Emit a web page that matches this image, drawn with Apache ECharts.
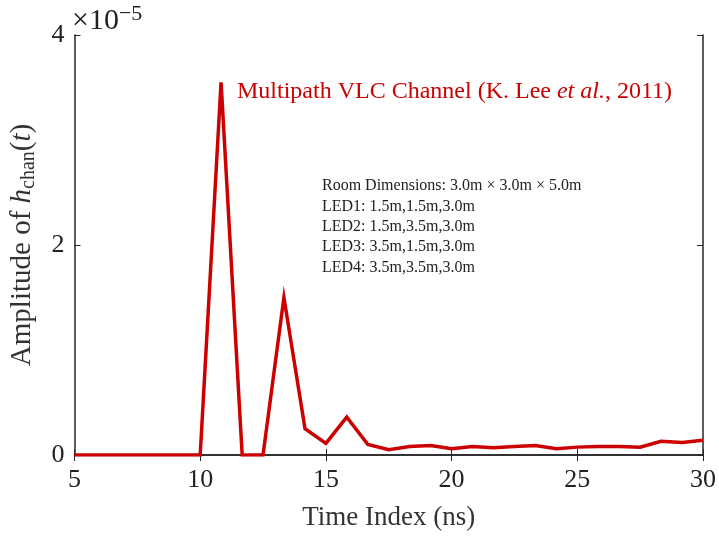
<!DOCTYPE html>
<html><head><meta charset="utf-8">
<script src="https://cdn.jsdelivr.net/npm/echarts@6/dist/echarts.min.js"></script>
<style>html,body{margin:0;padding:0;background:#fff}#c{width:719px;height:540px}</style>
</head><body><div id="c"></div>
<script>
// Time index (ns)
const timeNs = [5, 5.83, 6.67, 7.5, 8.33, 9.17, 10, 10.83, 11.67, 12.5, 13.33, 14.17, 15, 15.83, 16.67, 17.5, 18.33, 19.17, 20, 20.83, 21.67, 22.5, 23.33, 24.17, 25, 25.83, 26.67, 27.5, 28.33, 29.17, 30];
// Amplitude in units of 1e-5
const amplitude = [0, 0, 0, 0, 0, 0, 0, 3.55, 0, 0, 1.5, 0.25, 0.11, 0.36, 0.1, 0.05, 0.08, 0.09, 0.06, 0.08, 0.07, 0.08, 0.09, 0.06, 0.075, 0.08, 0.08, 0.075, 0.13, 0.12, 0.14];
const xTicks = [5, 10, 15, 20, 25, 30];
const yTicks = [0, 2, 4];
const infoLines = ['Room Dimensions: 3.0m \u00d7 3.0m \u00d7 5.0m', 'LED1: 1.5m,1.5m,3.0m', 'LED2: 1.5m,3.5m,3.0m', 'LED3: 3.5m,1.5m,3.0m', 'LED4: 3.5m,3.5m,3.0m'];

const FONT = '"Liberation Serif", "DejaVu Serif", serif';
const AX = '#262626';
const RED = '#cc0000';

const chart = echarts.init(document.getElementById('c'), null, {renderer: 'canvas'});
const axisCommon = {
  axisLine: {show: true, lineStyle: {color: AX, width: 1.5}},
  axisTick: {show: true, inside: true, length: 6, lineStyle: {color: AX, width: 1}},
  splitLine: {show: false}
};
chart.setOption({
  animation: false,
  grid: {left: 74, right: 15, top: 35, bottom: 85, containLabel: false},
  xAxis: [
    Object.assign({type: 'value', min: 5, max: 30, interval: 5, position: 'bottom',
      axisLabel: {color: '#222', fontFamily: FONT, fontSize: 26, margin: 12,
        formatter: v => xTicks.includes(v) ? String(v) : ''},
      name: 'Time Index (ns)', nameLocation: 'middle', nameGap: 49,
      nameTextStyle: {color: '#333', fontFamily: FONT, fontSize: 27}}, axisCommon),
    Object.assign({type: 'value', min: 5, max: 30, interval: 5, position: 'top',
      axisLabel: {show: false}}, axisCommon)
  ],
  yAxis: [
    Object.assign({type: 'value', min: 0, max: 4, interval: 2, position: 'left',
      axisLabel: {color: '#222', fontFamily: FONT, fontSize: 26, margin: 10,
        formatter: v => yTicks.includes(v) ? String(v) : ''},
      name: '{n|Amplitude of }{i|h}{s|chan}{n|(}{i|t}{n|)}', nameLocation: 'middle', nameGap: 36, nameRotate: 90,
      nameTextStyle: {color: '#333', fontFamily: FONT, fontSize: 29,
        rich: {
          n: {fontFamily: FONT, fontSize: 29, color: '#333'},
          i: {fontFamily: FONT, fontSize: 29, fontStyle: 'italic', color: '#333'},
          s: {fontFamily: FONT, fontSize: 20, color: '#333', padding: [12, 0, 0, 0]}
        }}}, axisCommon),
    Object.assign({type: 'value', min: 0, max: 4, interval: 2, position: 'right',
      axisLabel: {show: false}}, axisCommon)
  ],
  series: [{
    type: 'line', xAxisIndex: 0, yAxisIndex: 0,
    data: timeNs.map((t, i) => [t, amplitude[i]]),
    showSymbol: false, symbol: 'none',
    lineStyle: {color: RED, width: 3.5, join: 'miter'},
    itemStyle: {color: RED}
  }],
  graphic: [
    {type: 'text', left: 72, top: 3, style: {
      text: '{a|\u00d710}{b|\u22125}', rich: {
        a: {fontFamily: FONT, fontSize: 30, fill: '#222'},
        b: {fontFamily: FONT, fontSize: 22, fill: '#222', padding: [0, 0, 15, 0]}
      }}},
    {type: 'text', left: 237, top: 80, style: {
      text: '{n|Multipath VLC Channel (K. Lee }{i|et al.}{n|, 2011)}', rich: {
        n: {fontFamily: FONT, fontSize: 24, fill: RED},
        i: {fontFamily: FONT, fontSize: 24, fontStyle: 'italic', fill: RED}
      }}},
    {type: 'text', left: 322, top: 176, style: {
      text: infoLines.join('\n'), fontFamily: FONT, fontSize: 16, lineHeight: 20.3, fill: '#222'}}
  ]
});
</script></body></html>
